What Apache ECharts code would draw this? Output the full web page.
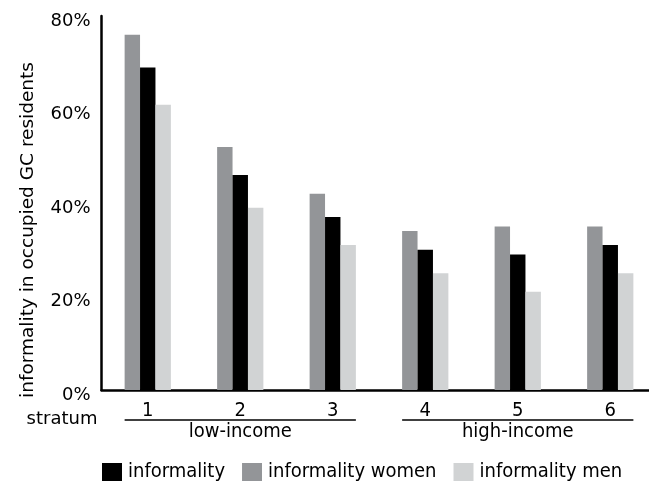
<!DOCTYPE html>
<html>
<head>
<meta charset="utf-8">
<script src="https://cdn.jsdelivr.net/npm/echarts@6/dist/echarts.min.js"></script>
<style>
html,body{margin:0;padding:0;background:#fff;}
#c{width:649px;height:486px;}
</style>
</head>
<body>
<div id="c"></div>
<script>
const categories = ['1', '2', '3', '4', '5', '6'];
const informality = [69, 46, 37, 30, 29, 31];
const informalityWomen = [76, 52, 42, 34, 35, 35];
const informalityMen = [61, 39, 31, 25, 21, 25];
const yMin = 0, yMax = 80, yStep = 20;
const groupLabels = ['low-income', 'high-income'];
const groupRanges = [['1', '3'], ['4', '6']];
const axisTitle = 'informality in occupied GC residents';
const xAxisTitle = 'stratum';

const FONT_A = '"DejaVu Sans", "Liberation Sans", sans-serif';
const FONT_B = '"DejaVu Sans Condensed", "Liberation Sans", sans-serif';

const chart = echarts.init(document.getElementById('c'), null, {renderer: 'canvas'});
const option = {
  animation: false,
  backgroundColor: '#ffffff',
  grid: {left: 101.5, width: 555, top: 16, bottom: 96, containLabel: false, outerBoundsMode: 'none'},
  legend: {
    data: ['informality', 'informality women', 'informality men'],
    left: 102, top: 462, padding: 0,
    icon: 'rect', itemWidth: 20, itemHeight: 18, itemGap: 17,
    textStyle: {fontFamily: FONT_B, fontSize: 20, color: '#000', padding: [0, 0, 0, 1]}
  },
  xAxis: {
    type: 'category',
    data: categories,
    axisLine: {lineStyle: {color: '#000', width: 2.5}},
    axisTick: {show: false},
    axisLabel: {fontFamily: FONT_B, fontSize: 20, color: '#000', margin: 11}
  },
  yAxis: {
    type: 'value',
    min: yMin, max: yMax, interval: yStep,
    axisLine: {show: true, lineStyle: {color: '#000', width: 2.5}},
    axisTick: {show: false},
    splitLine: {show: false},
    axisLabel: {color: '#000', margin: 11,
      formatter: '{t|{value}%}',
      rich: {t: {fontFamily: FONT_A, fontSize: 18, color: '#000', padding: [10, 0, 0, 0]}}}
  },
  series: [
    {name: 'informality women', type: 'bar', data: informalityWomen, itemStyle: {color: '#939598'},
     barGap: '0%', barCategoryGap: '50%'},
    {name: 'informality', type: 'bar', data: informality, itemStyle: {color: '#000000'},
     barGap: '0%', barCategoryGap: '50%'},
    {name: 'informality men', type: 'bar', data: informalityMen, itemStyle: {color: '#d1d3d4'},
     barGap: '0%', barCategoryGap: '50%'}
  ]
};
chart.setOption(option);

const px = c => chart.convertToPixel({xAxisIndex: 0}, c);
const band = px(categories[1]) - px(categories[0]);
const half = band * 0.25;
const graphics = [];
groupRanges.forEach((r, i) => {
  const x0 = px(r[0]) - half, x1 = px(r[1]) + half;
  graphics.push({type: 'line', shape: {x1: x0, y1: 420, x2: x1, y2: 420},
    style: {stroke: '#000', lineWidth: 1.5}});
  const mid = categories[(categories.indexOf(r[0]) + categories.indexOf(r[1])) / 2];
  graphics.push({type: 'text', x: px(mid), y: 432,
    style: {text: groupLabels[i], font: '20px ' + FONT_B, fill: '#000', align: 'center', verticalAlign: 'middle'}});
});
graphics.push({type: 'text', x: 62, y: 419,
  style: {text: xAxisTitle, font: '18px ' + FONT_A, fill: '#000', align: 'center', verticalAlign: 'middle'}});
graphics.push({type: 'text', x: 28, y: 230, rotation: Math.PI / 2,
  style: {text: axisTitle, font: '18.5px ' + FONT_A, fill: '#000', align: 'center', verticalAlign: 'middle'}});
chart.setOption({graphic: graphics});
</script>
</body>
</html>
